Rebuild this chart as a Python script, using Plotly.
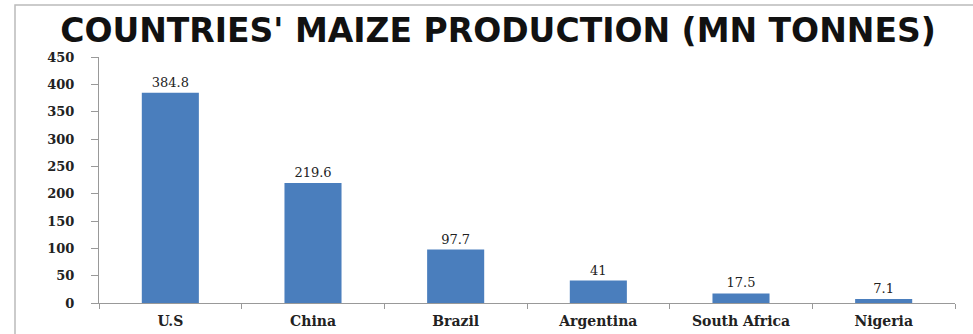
import plotly.graph_objects as go

countries = ["U.S", "China", "Brazil", "Argentina", "South Africa", "Nigeria"]
production = [384.8, 219.6, 97.7, 41, 17.5, 7.1]
labels = ["384.8", "219.6", "97.7", "41", "17.5", "7.1"]
y_ticks = [0, 50, 100, 150, 200, 250, 300, 350, 400, 450]

W, H = 973, 334
L, R, T, B = 99, 18, 57, 31
pw, ph = W - L - R, H - T - B

fig = go.Figure(go.Bar(
    x=countries, y=production, text=labels, textposition="outside",
    marker=dict(color="#4A7EBD", line=dict(width=0)),
    textfont=dict(family="DejaVu Serif", size=13, color="#222"),
    cliponaxis=False, width=0.4, hoverinfo="skip",
))

fig.update_layout(
    width=W, height=H,
    margin=dict(l=L, r=R, t=T, b=B, autoexpand=False),
    paper_bgcolor="white", plot_bgcolor="white",
    showlegend=False,
    title=dict(text="<b>COUNTRIES' MAIZE PRODUCTION (MN TONNES)</b>",
               font=dict(family="DejaVu Sans", size=33, color="#111"),
               x=498 / W, xanchor="center", xref="container",
               y=1 - 30 / H, yanchor="middle", yref="container"),
    xaxis=dict(showline=True, linecolor="#999", linewidth=1, automargin=False,
               ticks="outside", tickson="boundaries", ticklen=5, tickcolor="#999",
               tickfont=dict(family="DejaVu Serif", size=14, color="#222", weight="bold"),
               showgrid=False, ticklabelstandoff=5),
    yaxis=dict(range=[0, 450], tickvals=y_ticks, showline=True, linecolor="#999",
               linewidth=1, ticks="outside", ticklen=7, tickcolor="#999", automargin=False,
               tickfont=dict(family="DejaVu Serif", size=13, color="#222", weight="bold"),
               showgrid=False, zeroline=False, ticklabelstandoff=14),
    shapes=[dict(type="rect", xref="paper", yref="paper",
                 x0=(15 - L) / pw, x1=1.2, y0=-0.3, y1=(H - B - 5) / ph,
                 line=dict(color="#BBBBBB", width=1.5), layer="below")],
)

fig.write_html("out.html", config={"displayModeBar": False},
               post_script="document.body.style.margin='0';document.body.style.overflow='hidden';")
